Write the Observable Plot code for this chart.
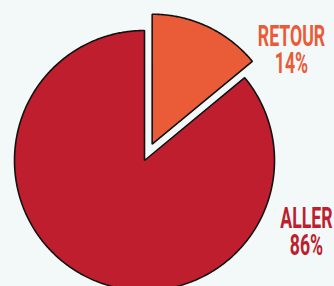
<!DOCTYPE html>
<html>
<head>
<meta charset="utf-8">
<script src="https://cdn.jsdelivr.net/npm/d3@7"></script>
<script src="https://cdn.jsdelivr.net/npm/@observablehq/plot@0.6"></script>
<style>
  html, body { margin: 0; padding: 0; background: #f2f9f8; overflow: hidden; }
  #chart svg { display: block; background: transparent; }
</style>
</head>
<body>
<div id="chart"></div>
<script>
// Data
const categories = ["RETOUR", "ALLER"];
const shares = [14, 86];
const colors = ["#ea5b37", "#be1e2e"];

// Layout constants (pixels)
const W = 334, H = 286, R = 130, CX = 144, CY = 160, EXPLODE = 18;
const exploded = "RETOUR";
const TEXT_SCALE_X = 0.6;

const pie = d3.pie().sort(null).value(d => d.value).startAngle(0).endAngle(2 * Math.PI);
const arcs = pie(categories.map((name, i) => ({name, value: shares[i]})));

// polygon points in unit-radius space (y up)
const points = [];
for (const a of arcs) {
  const mid = (a.startAngle + a.endAngle) / 2;
  const off = a.data.name === exploded ? EXPLODE / R : 0;
  const ox = Math.sin(mid) * off, oy = Math.cos(mid) * off;
  points.push({name: a.data.name, x: ox, y: oy});
  const n = Math.max(2, Math.ceil((a.endAngle - a.startAngle) / (Math.PI / 360)));
  for (let k = 0; k <= n; k++) {
    const t = a.startAngle + (a.endAngle - a.startAngle) * k / n;
    points.push({name: a.data.name, x: ox + Math.sin(t), y: oy + Math.cos(t)});
  }
}

const labelPos = {RETOUR: [291, 50], ALLER: [306, 232]};
const labels = categories.map((name, i) => ({
  name,
  text: `${name}\n${shares[i]}%`,
  x: (labelPos[name][0] - CX) / R,
  y: (CY - labelPos[name][1]) / R
}));

const chart = Plot.plot({
  width: W,
  height: H,
  margin: 0,
  style: {background: "transparent"},
  x: {domain: [-CX / R, (W - CX) / R], axis: null},
  y: {domain: [-(H - CY) / R, CY / R], axis: null},
  color: {domain: categories, range: colors},
  marks: [
    Plot.line(points, {x: "x", y: "y", z: "name", fill: "name", stroke: "#111", strokeWidth: 1.6, curve: "linear-closed", strokeLinejoin: "miter"}),
    Plot.text(labels, {x: "x", y: "y", text: "text", fill: "name", fontSize: 29.5, fontWeight: "bold", fontFamily: "Roboto, 'Liberation Sans', sans-serif", lineHeight: 0.92, textAnchor: "middle", lineAnchor: "middle"})
  ]
});

chart.querySelectorAll("g[aria-label='text'] text").forEach(t => {
  const tr = t.getAttribute("transform");
  if (tr) t.setAttribute("transform", tr + ` scale(${TEXT_SCALE_X},1)`);
  else {
    const x = t.getAttribute("x") || 0, y = t.getAttribute("y") || 0;
    t.removeAttribute("x"); t.removeAttribute("y");
    t.setAttribute("transform", `translate(${x},${y}) scale(${TEXT_SCALE_X},1)`);
  }
});

document.getElementById("chart").appendChild(chart);
</script>
</body>
</html>
